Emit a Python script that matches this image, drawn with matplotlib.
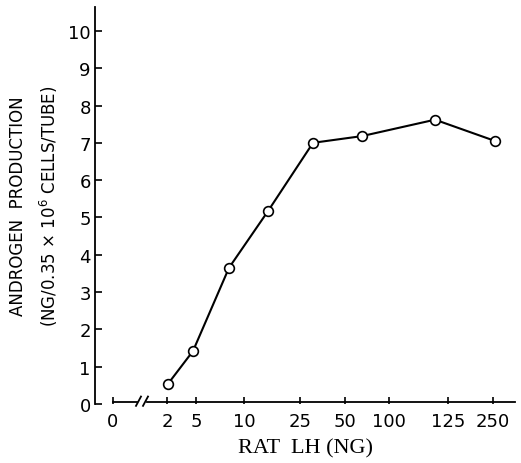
import matplotlib
matplotlib.use("Agg")
import matplotlib.pyplot as plt

# Data
tick_labels = ["0", "2", "5", "10", "25", "50", "100", "125", "250"]
tick_pos = [1.8, 7.2, 10.1, 14.9, 20.5, 25.0, 29.4, 35.3, 39.8]
point_pos = [7.3, 9.8, 13.4, 17.3, 21.8, 26.7, 34.0, 40.0]
androgen = [0.54, 1.42, 3.65, 5.17, 7.0, 7.18, 7.62, 7.05]
y_ticks = list(range(0, 11))

tick_font = ['Liberation Sans Narrow', 'DejaVu Sans']

fig = plt.figure(figsize=(5.21, 4.64), dpi=100)
ax = fig.add_axes([95/521, 59/464, 420/521, 397/464])
ax.set_xlim(0, 42)
ax.set_ylim(0, 10.64)

ax.plot(point_pos, androgen, color='black', lw=1.5, marker='o', ms=7,
        mfc='white', mec='black', mew=1.2, zorder=3)

for s in ['top', 'right', 'bottom']:
    ax.spines[s].set_visible(False)
ax.spines['left'].set_linewidth(1.3)

ax.set_yticks(y_ticks)
ax.set_yticklabels([str(v) for v in y_ticks], family=tick_font, fontsize=13)
ax.set_xticks(tick_pos)
ax.set_xticklabels(tick_labels, family=tick_font, fontsize=13)
ax.tick_params(axis='y', direction='in', length=5, width=1.2, pad=3)
ax.tick_params(axis='x', direction='in', length=5, width=1.2, pad=6)

# custom broken x axis
kw = dict(color='black', lw=1.3, clip_on=False)
ax.plot([1.8, 4.2], [0.05, 0.05], **kw)
ax.plot([5.2, 42.0], [0.05, 0.05], **kw)
ax.plot([4.1, 4.6], [-0.05, 0.2], **kw)
ax.plot([4.8, 5.3], [-0.05, 0.2], **kw)

ax.set_xlabel("RAT  LH (NG)", family=['Liberation Serif', 'DejaVu Serif'],
              fontsize=16, labelpad=6)
ax.set_ylabel("ANDROGEN  PRODUCTION\n(NG/0.35 × 10$^6$ CELLS/TUBE)",
              family=tick_font, fontsize=12, labelpad=6, linespacing=1.6)

fig.savefig("out.png", dpi=100)
